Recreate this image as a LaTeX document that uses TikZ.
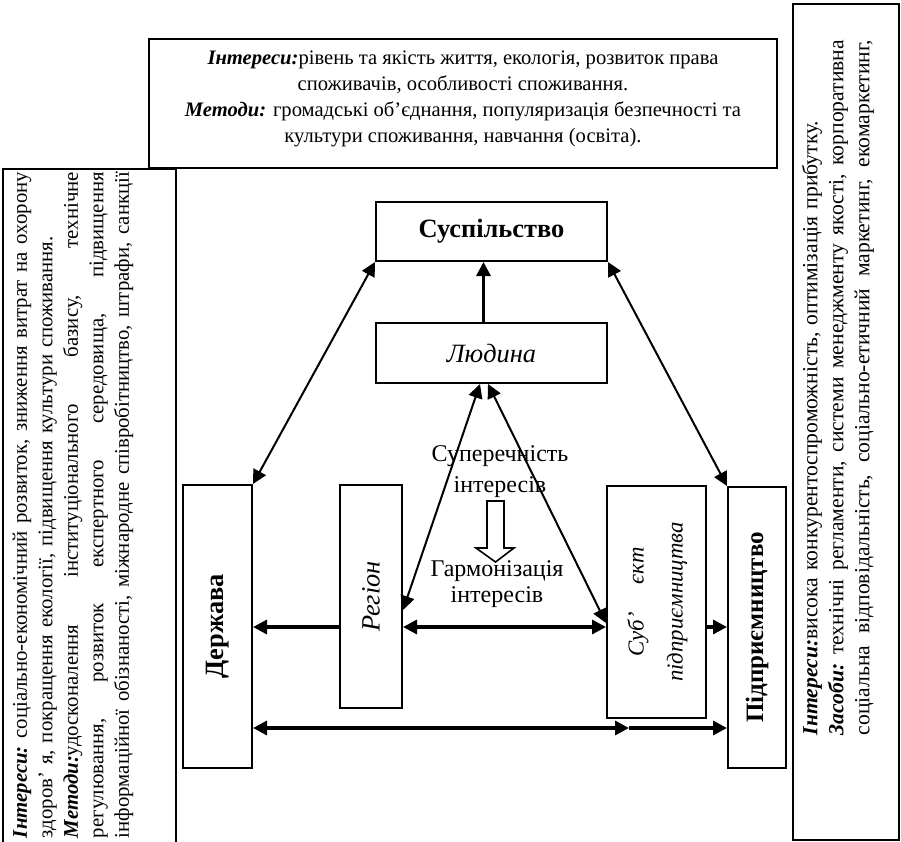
\documentclass[tikz,border=0pt]{standalone}
\usepackage{fontspec}
\usepackage{graphicx}
\setmainfont{Liberation Serif}
\usetikzlibrary{arrows.meta,calc}

\newcommand\spreadline[2][333pt]{\makebox[#1][s]{\frenchspacing\spaceskip=.3333em plus 1fil\xspaceskip=0pt\relax #2}}
\newcommand\lead[1]{\textbf{\textit{#1}}}

\tikzset{
  unitbox/.style={draw, line width=1pt, inner sep=0pt},
  sidetext/.style={rotate=90, inner sep=0pt, align=left, font=\fontsize{10.4}{12.75}\selectfont},
  midlabel/.style={inner sep=0pt, align=center, font=\fontsize{12}{15.5}\selectfont},
  tip/.tip={Triangle[length=7pt,width=7pt]},
  link/.style={line width=1pt, tip-tip},
  flow/.style={line width=1.6pt}
}

\begin{document}
\begin{tikzpicture}[x=0.5pt,y=-0.5pt]
\useasboundingbox (0,0) rectangle (901,842);

\node[unitbox, minimum width=314pt, minimum height=64.5pt] (topbox) at (463,103.5) {};
\node[inner sep=0pt, align=center, font=\fontsize{10.3}{13}\selectfont] (toptext) at (463,99)
  {\lead{Інтереси:}рівень та якість життя, екологія, розвиток права\\
   споживачів, особливості споживання.\\
   \lead{Методи:} громадські об’єднання, популяризація безпечності та\\
   культури споживання, навчання (освіта).};

\draw[line width=1pt] (3,842) -- (3,169) -- (176,169) -- (176,842);
\node[sidetext, text width=333pt] (statetext) at (73,505)
  {\spreadline{\lead{Інтереси:} соціально-економічний розвиток, зниження витрат на охорону}\\
   здоров’ я, покращення екології, підвищення культури споживання.\\
   \spreadline{\lead{Методи:}удосконалення інституціонального базису, технічне}\\
   \spreadline{регулювання, розвиток експертного середовища, підвищення}\\
   \spreadline{інформаційної обізнаності, міжнародне співробітництво, штрафи, санкції}};

\node[unitbox, minimum width=53pt, minimum height=418pt] (rightbox) at (846,422) {};
\node[sidetext, text width=347.5pt, font=\fontsize{10.8}{13}\selectfont] (businesstext) at (838,387.5)
  {\lead{Інтереси:}висока конкурентоспроможність, оптимізація прибутку.\\
   \spreadline[347.5pt]{\lead{Засоби:} технічні регламенти, системи менеджменту якості, корпоративна}\\
   \spreadline[347.5pt]{соціальна відповідальність, соціально-етичний маркетинг, екомаркетинг,}};

\node[unitbox, minimum width=115.5pt, minimum height=29.5pt, font=\fontsize{13.2}{15}\selectfont\bfseries] (society) at (491.5,231.5) {Суспільство};
\node[unitbox, minimum width=115.5pt, minimum height=30pt, font=\fontsize{13.2}{15}\selectfont\itshape] (person) at (491.5,353) {Людина};

\node[unitbox, minimum width=34.5pt, minimum height=141.5pt, font=\fontsize{13.2}{15}\selectfont\bfseries] (state) at (217.5,626.5) {\rotatebox{90}{Держава}};
\node[unitbox, minimum width=31pt, minimum height=111.5pt, font=\fontsize{13.2}{15}\selectfont\itshape] (region) at (371,596.5) {\rotatebox{90}{Регіон}};
\node[unitbox, minimum width=49.5pt, minimum height=116pt, font=\fontsize{11.4}{16.5}\selectfont\itshape] (subject) at (656.5,602)
  {\rotatebox{90}{\begin{tabular}{@{}c@{}}Суб’\hspace{14pt}єкт\\[3pt]підприємництва\end{tabular}}};
\node[unitbox, minimum width=29pt, minimum height=140.5pt, font=\fontsize{12.5}{14}\selectfont\bfseries] (business) at (757,627.5) {\rotatebox{90}{Підприємництво}};

\node[midlabel] (conflict) at (500,472) {Суперечність\\інтересів};
\node[midlabel, font=\fontsize{12}{13}\selectfont] (harmony) at (497,584) {Гармонізація\\інтересів};
\coordinate (turn) at (495.5,501);
\draw[line width=0.8pt, fill=white] ($(turn)+(-8.5,0)$) -- ($(turn)+(8.5,0)$) -- ($(turn)+(8.5,47)$) -- ($(turn)+(18.5,47)$)
  -- ($(turn)+(0,61)$) -- ($(turn)+(-19.5,47)$) -- ($(turn)+(-8.5,47)$) -- cycle;

\draw[flow, -tip] ([xshift=-4pt]person.north) -- ([xshift=-4pt]society.south);
\draw[link] (society.south west) -- (state.north east);
\draw[link] (society.south east) -- (business.north west);
\draw[link] ([yshift=-6.75pt]region.east) -- ([xshift=-5.75pt]person.south);
\draw[link] ([yshift=-10.5pt]subject.west) -- ([xshift=-1.75pt]person.south);

\coordinate (midrow) at (0,627);
\draw[flow, -tip] (region.west |- midrow) -- (state.east |- midrow);
\draw[flow, tip-tip] (region.east |- midrow) -- (subject.west |- midrow);
\draw[flow, -tip] (subject.east |- midrow) -- (business.west |- midrow);

\coordinate (lowrow) at (629,728);
\draw[flow, tip-tip] (state.east |- lowrow) -- (lowrow);
\draw[flow, -tip] (lowrow) -- (business.west |- lowrow);
\end{tikzpicture}
\end{document}
